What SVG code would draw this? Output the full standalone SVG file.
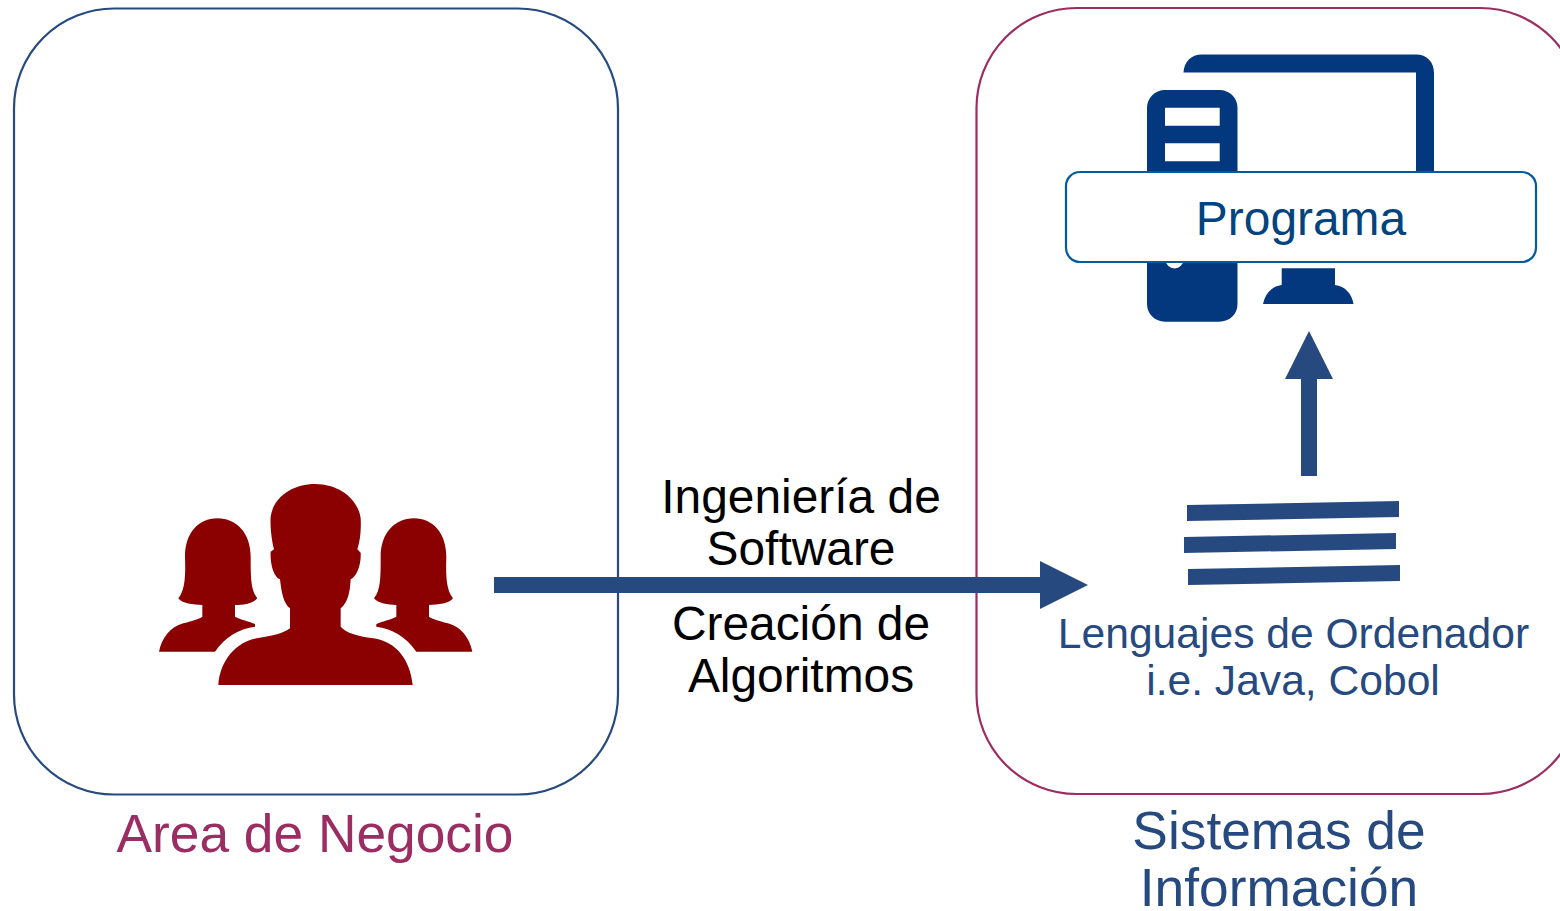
<svg xmlns="http://www.w3.org/2000/svg" xmlns:xlink="http://www.w3.org/1999/xlink" width="1560" height="911" viewBox="0 0 1560 911">
<style>
text{font-family:"Liberation Sans",Arial,sans-serif;text-anchor:middle}
.box{fill:#fff;stroke-width:2.2}
.red{fill:#8b0000}
.pc{fill:#03387f}
.conn{fill:#264a7f}
.t53{font-size:53.3px}
.t47{font-size:47.900px;fill:#000}
.t43{font-size:42.6px;fill:#264a7f}
.navy{fill:#264a7f}
.plum{fill:#9b2d62}
</style>
<defs>
<path id="woman" d="M57,545 C65,505 90,470 130,460 C160,452 175,448 187,440 L187,405 C160,405 125,400 115,385 C135,360 137,320 135,260 C135,190 175,145 232,145 C290,145 332,190 332,260 C332,320 332,360 352,385 C340,400 310,405 285,405 L285,440 C300,448 330,455 345,462 L345,470 C300,475 255,500 225,545 Z"/>
</defs>
<g id="area-negocio">
<rect class="box" x="14" y="8.500" width="604" height="786" rx="100" ry="100" stroke="#264a7f"/>
<text class="t53 plum" x="315" y="852">Area de Negocio</text>
</g>
<g id="sistemas-informacion">
<rect class="box" x="976.500" y="8" width="604" height="786" rx="100" ry="100" stroke="#9b2d62"/>
<text class="t53 navy" x="1279" y="849">Sistemas de</text>
<text class="t53 navy" x="1279" y="906">Información</text>
</g>
<g id="personas" class="red" transform="translate(140 470) scale(.33333)">
<use xlink:href="#woman" href="#woman"/>
<use xlink:href="#woman" href="#woman" transform="translate(1054 0) scale(-1 1)"/>
<path d="M235,645 C240,570 290,515 350,505 C400,497 430,490 450,475 L450,415 C430,400 425,370 420,328 C400,320 390,280 392,245 L402,238 C395,210 390,170 392,140 C400,80 460,42 525,42 C600,42 655,90 662,145 C664,180 660,215 652,238 L662,248 C664,285 650,320 632,328 C630,370 622,400 602,415 L602,470 C620,490 650,497 700,505 C770,515 810,570 818,645 Z"/>
</g>
<g id="ordenador">
<path class="pc" d="M1183.500,72.500 C1184,62 1191,54.500 1202,54.500 L1416,54.500 C1427,54.500 1434,62 1434,73 L1434,175 L1416,175 L1416,72.500 Z"/>
<path class="pc" fill-rule="evenodd" d="M1165,90 L1219,90 C1230,90 1237.500,98 1237.500,108 L1237.500,304 C1237.500,314 1230,321.700 1219,321.700 L1165,321.700 C1155,321.700 1147,314 1147,304 L1147,108 C1147,98 1155,90 1165,90 Z M1165,107.700 L1165,125.700 L1219.700,125.700 L1219.700,107.700 Z M1165,143.300 L1165,161.300 L1219.700,161.300 L1219.700,143.300 Z"/>
<circle cx="1174.500" cy="259.500" r="9" fill="#fff"/>
<path class="pc" d="M1281.700,268.300 L1335,268.300 L1335,285 C1345,286 1352,294 1353.500,304 L1263,304 C1265,294 1272,286 1281.700,285 Z"/>
</g>
<g id="connectors" class="conn">
<path d="M494,577 L1040,577 L1040,561 L1088,585 L1040,609 L1040,593 L494,593 Z"/>
<path d="M1301,476 L1301,379 L1285,379 L1309,331 L1333,379 L1317,379 L1317,476 Z"/>
</g>
<g id="programa">
<rect x="1066" y="172" width="470" height="90" rx="14" ry="14" fill="#fff" stroke="#005ba1" stroke-width="2.200"/>
<text x="1301" y="235" font-size="47.900" fill="#03447f">Programa</text>
</g>
<g id="lenguajes">
<path class="conn" d="M1187,505 L1399,501 L1399,517 L1187,521 Z"/>
<path class="conn" d="M1184,537 L1396,533 L1396,549 L1184,553 Z"/>
<path class="conn" d="M1188,569 L1400,565 L1400,581 L1188,585 Z"/>
<text class="t43" x="1293.500" y="648">Lenguajes de Ordenador</text>
<text class="t43" x="1293" y="694.500">i.e. Java, Cobol</text>
</g>
<g id="etiquetas">
<text class="t47" x="801" y="513">Ingeniería de</text>
<text class="t47" x="801" y="565">Software</text>
<text class="t47" x="801" y="640">Creación de</text>
<text class="t47" x="801" y="692">Algoritmos</text>
</g>
</svg>
